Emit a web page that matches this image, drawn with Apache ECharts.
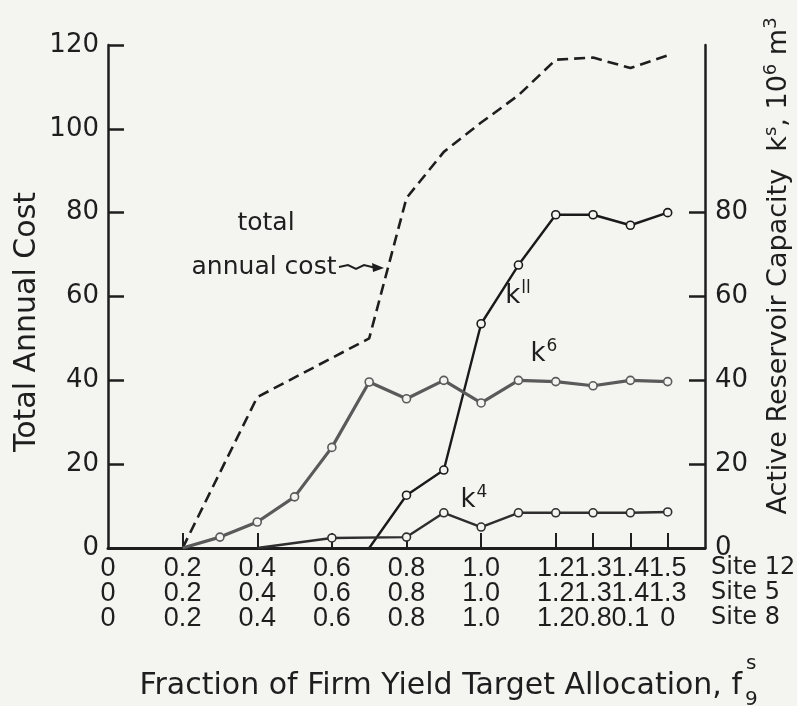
<!DOCTYPE html>
<html><head><meta charset="utf-8">
<script src="https://cdn.jsdelivr.net/npm/echarts@6/dist/echarts.min.js"></script>
<style>html,body{margin:0;padding:0;background:#f4f4f1}#c{width:797px;height:706px}</style>
</head><body><div id="c"></div>
<script>
// x positions are step indices along the allocation axis (one step = 0.1 fraction for Site 12)
const steps = ['0','1','2','3','4','5','6','7','8','9','10','11','12','13','14','15','16'];
const labelSteps = [0, 2, 4, 6, 8, 10, 12, 13, 14, 15];
const site12Labels = ['0', '0.2', '0.4', '0.6', '0.8', '1.0', '1.2', '1.3', '1.4', '1.5'];
const site5Labels  = ['0', '0.2', '0.4', '0.6', '0.8', '1.0', '1.2', '1.3', '1.4', '1.3'];
const site8Labels  = ['0', '0.2', '0.4', '0.6', '0.8', '1.0', '1.2', '0.8', '0.1', '0'];
const xTickSteps = [2, 4, 6, 8, 10, 12, 13, 14, 15];
const leftTicks = [0, 20, 40, 60, 80, 100, 120];
const rightTicks = [0, 20, 40, 60, 80];

const costX = [2, 4, 7, 8, 9, 10, 11, 12, 13, 14, 15];
const costY = [0, 36, 50, 83.5, 94.5, 101.5, 108, 116.5, 117, 114.5, 117.5];

const k11X = [7, 8, 9, 10, 11, 12, 13, 14, 15];
const k11Y = [0, 12.6, 18.6, 53.5, 67.5, 79.5, 79.5, 77, 80];

const k6X = [2, 3, 4, 5, 6, 7, 8, 9, 10, 11, 12, 13, 14, 15];
const k6Y = [0, 2.6, 6.2, 12.2, 24, 39.6, 35.6, 40, 34.6, 40, 39.7, 38.7, 40, 39.7];

const k4X = [4, 6, 8, 9, 10, 11, 12, 13, 14, 15];
const k4Y = [0, 2.4, 2.6, 8.4, 5, 8.4, 8.4, 8.4, 8.4, 8.6];

const FONT = 'DejaVu Sans';
const XFONT = 'Liberation Sans';
const INK = '#1e1e1e';
const BG = '#f4f4f1';

function pts(xs, ys, hideFirst) {
  return xs.map((x, i) => {
    const item = { value: [x, ys[i]] };
    if (hideFirst && i === 0) item.symbol = 'none';
    return item;
  });
}

function kSeries(name, xs, ys, color, width) {
  return {
    name, type: 'line', yAxisIndex: 1, data: pts(xs, ys, true),
    symbol: 'circle', symbolSize: 8,
    lineStyle: { color, width },
    itemStyle: { color: BG, borderColor: color, borderWidth: 1.6 },
    z: 3, animation: false
  };
}

const chart = echarts.init(document.getElementById('c'));
chart.setOption({
  backgroundColor: BG,
  animation: false,
  grid: { left: 108, right: 92, top: 45, bottom: 158 },
  xAxis: {
    type: 'category', data: steps, boundaryGap: false,
    splitLine: { show: false },
    axisLine: { lineStyle: { color: INK, width: 3 } },
    axisTick: { show: true, inside: true, length: 15, alignWithLabel: true, lineStyle: { color: INK, width: 2 },
      interval: (idx) => xTickSteps.indexOf(idx) >= 0 },
    axisLabel: {
      interval: 0,
      margin: 8,
      fontFamily: XFONT, fontSize: 27, color: INK, lineHeight: 25,
      formatter: (v, idx) => {
        const i = labelSteps.indexOf(idx);
        if (i < 0) return '';
        return site12Labels[i] + '\n' + site5Labels[i] + '\n' + site8Labels[i];
      }
    }
  },
  yAxis: [
    {
      type: 'value', min: 0, max: 120, interval: 20, position: 'left',
      splitLine: { show: false },
      axisLine: { show: true, lineStyle: { color: INK, width: 2.5 } },
      axisTick: { show: true, inside: true, length: 16, lineStyle: { color: INK, width: 2.5 }, customValues: leftTicks },
      axisLabel: { fontFamily: FONT, fontSize: 26, color: INK, margin: 9, customValues: leftTicks }
    },
    {
      type: 'value', min: 0, max: 120, interval: 20, position: 'right',
      splitLine: { show: false },
      axisLine: { show: true, lineStyle: { color: INK, width: 2.5 } },
      axisTick: { show: true, inside: true, length: 16, lineStyle: { color: INK, width: 2.5 }, customValues: [20, 40, 60, 80] },
      axisLabel: { fontFamily: FONT, fontSize: 26, color: INK, margin: 10, customValues: rightTicks }
    }
  ],
  series: [
    {
      name: 'total annual cost', type: 'line', yAxisIndex: 0,
      data: pts(costX, costY, false), symbol: 'none',
      lineStyle: { color: INK, width: 2.6, type: [11, 6] }, z: 2
    },
    kSeries('k11', k11X, k11Y, '#1a1a1a', 2.4),
    kSeries('k6', k6X, k6Y, '#5a5a5a', 3.2),
    kSeries('k4', k4X, k4Y, '#2e2e2e', 2.4)
  ],
  graphic: [
    { type: 'text', x: 27, y: 322, rotation: Math.PI / 2,
      style: { text: 'Total Annual Cost', fontFamily: FONT, fontSize: 30, fill: INK, textAlign: 'center', textVerticalAlign: 'middle' } },
    { type: 'text', x: 779, y: 266, rotation: Math.PI / 2,
      style: { text: '{n|Active Reservoir Capacity  k}{s|s}{n|, 10}{s|6}{n| m}{s|3}', textAlign: 'center', textVerticalAlign: 'middle', fill: INK,
        rich: { n: { fontFamily: FONT, fontSize: 27, fill: INK }, s: { fontFamily: FONT, fontSize: 18, fill: INK, padding: [0, 0, 15, 0] } } } },
    { type: 'text', x: 742, y: 686,
      style: { text: 'Fraction of Firm Yield Target Allocation, f', fontFamily: FONT, fontSize: 30, fill: INK, textAlign: 'right', textVerticalAlign: 'middle' } },
    { type: 'text', x: 746, y: 664, style: { text: 's', fontFamily: FONT, fontSize: 20, fill: INK, textAlign: 'left', textVerticalAlign: 'middle' } },
    { type: 'text', x: 745, y: 700, style: { text: '9', fontFamily: FONT, fontSize: 20, fill: INK, textAlign: 'left', textVerticalAlign: 'middle' } },
    { type: 'text', x: 711, y: 568, style: { text: 'Site 12', fontFamily: FONT, fontSize: 24, fill: INK, textAlign: 'left', textVerticalAlign: 'middle' } },
    { type: 'text', x: 711, y: 593, style: { text: 'Site 5', fontFamily: FONT, fontSize: 24, fill: INK, textAlign: 'left', textVerticalAlign: 'middle' } },
    { type: 'text', x: 711, y: 618, style: { text: 'Site 8', fontFamily: FONT, fontSize: 24, fill: INK, textAlign: 'left', textVerticalAlign: 'middle' } },
    { type: 'text', x: 266, y: 223, style: { text: 'total', fontFamily: FONT, fontSize: 25, fill: INK, textAlign: 'center', textVerticalAlign: 'middle' } },
    { type: 'text', x: 264, y: 267, style: { text: 'annual cost', fontFamily: FONT, fontSize: 25, fill: INK, textAlign: 'center', textVerticalAlign: 'middle' } },
    { type: 'polyline', shape: { points: [[339, 267], [348, 265], [356, 269], [364, 265], [376, 268]] }, style: { stroke: INK, lineWidth: 2, fill: null } },
    { type: 'polygon', shape: { points: [[384, 268], [372, 263], [373, 272]] }, style: { fill: INK } },
    { type: 'text', x: 518, y: 296,
      style: { text: '{n|k}{s|ll}', textAlign: 'center', textVerticalAlign: 'middle',
        rich: { n: { fontFamily: FONT, fontSize: 26, fill: INK }, s: { fontFamily: FONT, fontSize: 17, fill: INK, padding: [0, 0, 14, 1] } } } },
    { type: 'text', x: 544, y: 354,
      style: { text: '{n|k}{s|6}', textAlign: 'center', textVerticalAlign: 'middle',
        rich: { n: { fontFamily: FONT, fontSize: 26, fill: INK }, s: { fontFamily: FONT, fontSize: 17, fill: INK, padding: [0, 0, 14, 1] } } } },
    { type: 'text', x: 474, y: 500,
      style: { text: '{n|k}{s|4}', textAlign: 'center', textVerticalAlign: 'middle',
        rich: { n: { fontFamily: FONT, fontSize: 26, fill: INK }, s: { fontFamily: FONT, fontSize: 17, fill: INK, padding: [0, 0, 14, 1] } } } }
  ]
});
</script>
</body></html>
